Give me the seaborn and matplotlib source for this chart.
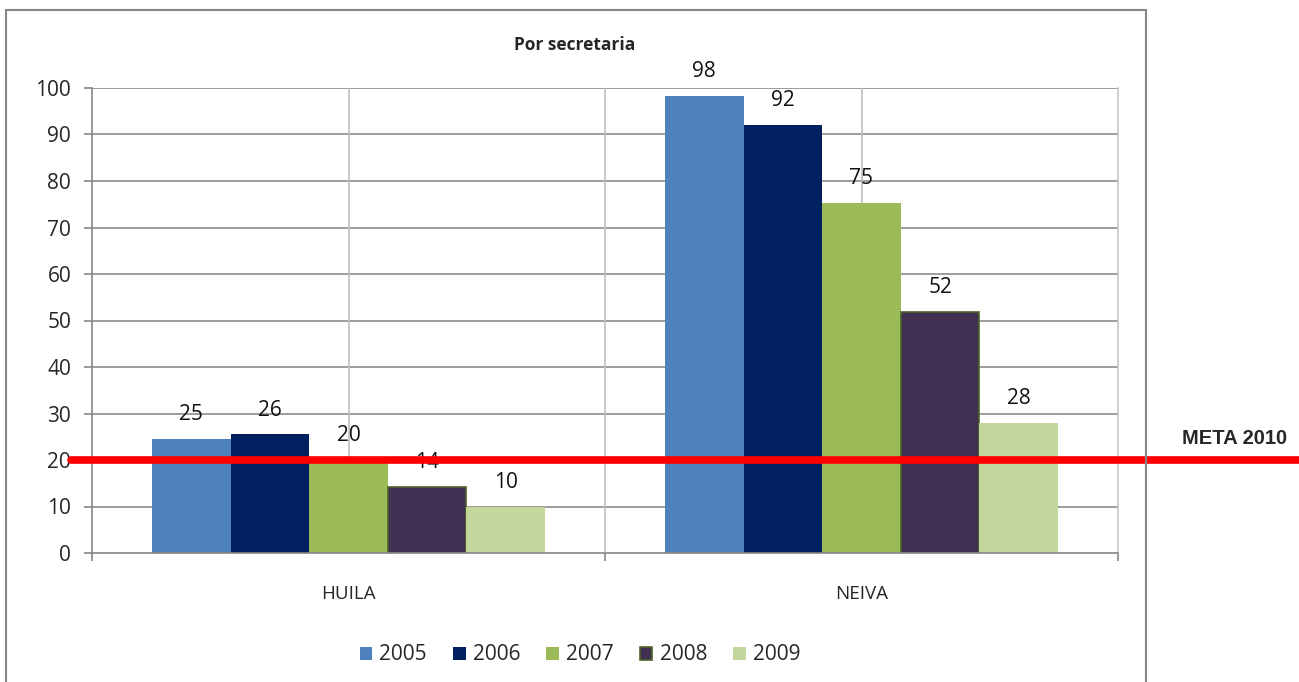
import pandas as pd
import numpy as np
import matplotlib.pyplot as plt
import seaborn as sns
from matplotlib.patches import Rectangle

# Data
categories = ['HUILA', 'NEIVA']
years = ['2005', '2006', '2007', '2008', '2009']
huila = [24.6, 25.5, 20.1, 14.3, 10.0]
neiva = [98.2, 92.1, 75.3, 51.9, 27.9]
meta = 20
colors = ['#4F81BD', '#002060', '#9BBB59', '#403152', '#C3D69B']

df = pd.DataFrame({
    'cat': [c for c in categories for _ in years],
    'year': years * 2,
    'value': huila + neiva,
})

sns.set_style('white')
plt.rcParams['font.family'] = ['Open Sans', 'DejaVu Sans']

fig = plt.figure(figsize=(12.99, 6.82), dpi=100)
ax = fig.add_axes([92 / 1299, 1 - 553 / 682, 1026 / 1299, 465 / 682])

sns.barplot(data=df, x='cat', y='value', hue='year', palette=colors,
            width=0.766, gap=0, saturation=1, legend=False, ax=ax, zorder=2,
            linewidth=0)

# dark purple bars have an olive border
for bar in ax.containers[3]:
    bar.set_edgecolor('#4F6228')
    bar.set_linewidth(1.2)

for cont in ax.containers:
    ax.bar_label(cont, fmt='%.0f', padding=10, fontsize=15, color='#111111')

ax.set_xlim(-0.5, 1.5)
ax.set_ylim(0, 100)
ax.set_yticks(np.arange(0, 101, 10))
ax.set_xlabel('')
ax.set_ylabel('')

# gridlines
for y in np.arange(10, 101, 10):
    ax.axhline(y, color='#8c8c8c', lw=1.2, zorder=1)
for x in [0, 0.5, 1]:
    ax.axvline(x, color='#bdbdbd', lw=1.2, zorder=1)

ax.spines['top'].set_visible(False)
ax.spines['right'].set_color('#c8c8c8')
ax.spines['left'].set_color('#868686')
ax.spines['bottom'].set_color('#868686')
for s in ax.spines.values():
    s.set_linewidth(1.2)

ax.tick_params(axis='y', direction='out', length=6, width=1.2, color='#868686',
               pad=9, labelsize=15, left=True)
ax.set_xticks([-0.5, 0.5, 1.5], minor=True)
ax.tick_params(axis='x', which='minor', direction='out', length=6, width=1.2,
               color='#868686', bottom=True)
ax.tick_params(axis='x', which='major', length=0, pad=23, labelsize=13.5)

# META 2010 line
ax.axhline(meta, xmin=-0.02, xmax=1.2, color='#FF0000', lw=5.5,
           clip_on=False, zorder=5)
fig.text(1287 / 1299, 1 - 438 / 682, 'META 2010', ha='right', va='center',
         fontsize=14.5, fontweight='bold', family='Liberation Sans')

fig.text(575 / 1299, 1 - 45 / 682, 'Por secretaria', ha='center', va='center',
         fontsize=12.5, fontweight='bold')

ax.legend(ax.containers, years, loc='center', bbox_to_anchor=(580 / 1299, 1 - 655 / 682),
          bbox_transform=fig.transFigure, ncol=5, frameon=False, fontsize=15,
          handlelength=0.6, handleheight=0.6, handletextpad=0.35, columnspacing=1.25)

# chart area border
fig.patches.append(Rectangle((6 / 1299, -0.02), 1140 / 1299, 1 - 10 / 682 + 0.02,
                             transform=fig.transFigure, fill=False,
                             edgecolor='#868686', lw=1.5))

fig.savefig('out.png', dpi=100)
